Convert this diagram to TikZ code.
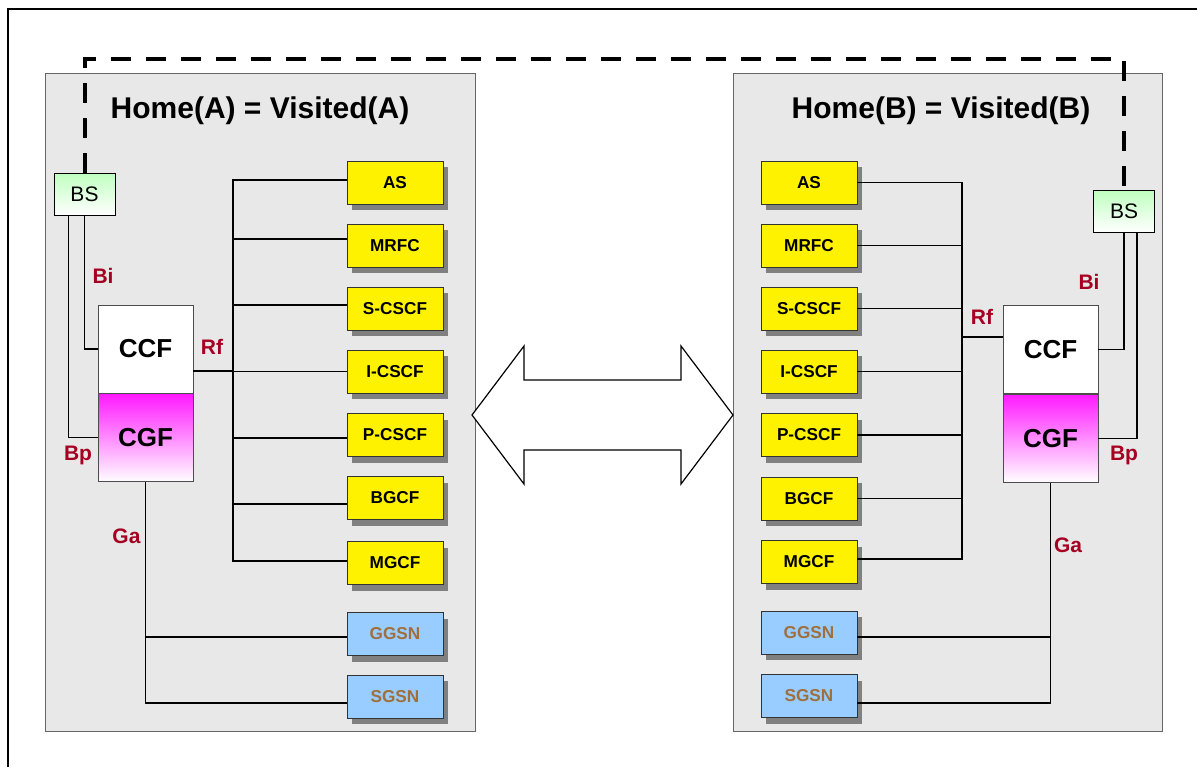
\documentclass[tikz,border=0pt]{standalone}
\usepackage{fontspec}
\setmainfont{Liberation Sans}
\usetikzlibrary{shadows}

\definecolor{panelgray}{HTML}{E8E8E8}
\definecolor{ifred}{HTML}{A50021}
\definecolor{gsnbrown}{HTML}{A0703C}
\definecolor{gsnblue}{HTML}{99CCFF}
\definecolor{bsgreen}{HTML}{BFFFC0}

\tikzset{
  fn/.style={draw=black!80, fill=yellow, minimum width=48pt, minimum height=21.5pt, inner sep=0pt,
    font=\fontsize{8.6}{10}\selectfont\bfseries,
    drop shadow={shadow xshift=2.5pt, shadow yshift=-3pt, fill=gray, opacity=1}},
  gsn/.style={fn, fill=gsnblue, text=gsnbrown},
  bsbox/.style={draw, top color=bsgreen, bottom color=white, minimum width=30.5pt, minimum height=21pt,
    font=\fontsize{10.5}{12}\selectfont},
  ccfbox/.style={draw=black!70, fill=white, minimum width=47.5pt, minimum height=44pt, inner sep=0pt,
    font=\fontsize{13}{15}\selectfont\bfseries},
  cgfbox/.style={ccfbox, top color=magenta!90!white, bottom color=white},
  iface/.style={text=ifred, anchor=base, font=\fontsize{10.5}{12}\selectfont\bfseries},
  title/.style={anchor=base, font=\fontsize{15}{18}\selectfont\bfseries},
  link/.style={line width=0.6pt},
}

\begin{document}
\begin{tikzpicture}[x=0.5pt, y=-0.5pt]
\useasboundingbox (0,0) rectangle (1197,767);
\draw[line width=1pt] (8,767) -- (8,9) -- (1197,9);
% the two networks
\draw[draw=black!60, fill=panelgray] (45,73) rectangle (475,731);
\draw[draw=black!60, fill=panelgray] (733,73) rectangle (1162,731);
\node[title] (titleA) at (260,118) {Home(A) = Visited(A)};
\node[title] (titleB) at (941,118) {Home(B) = Visited(B)};

% network A
\node[bsbox] (bsA) at (84.5,194) {BS};
\node[ccfbox] (ccfA) at (145.5,349) {CCF};
\node[cgfbox, anchor=north] (cgfA) at (ccfA.south) {CGF};
\coordinate (rfA) at (233,371);
\foreach \n/\t/\y/\d in {asA/AS/182.5/1.25pt, mrfcA/MRFC/245.5/3.25pt, scscfA/S-CSCF/308.5/1.75pt,
  icscfA/I-CSCF/371.5/0pt, pcscfA/P-CSCF/435/-1.5pt, bgcfA/BGCF/498/-3pt, mgcfA/MGCF/563/1pt}{
  \node[fn] (\n) at (395,\y) {\t};
  \draw[link] ([yshift=\d]\n.west) -| (rfA);
}
\node[gsn] (ggsnA) at (395,634) {GGSN};
\node[gsn] (sgsnA) at (395,696.5) {SGSN};
\draw[line width=1pt] (ccfA.east |- rfA) -- (rfA);
\draw[link] (bsA.south) |- (ccfA.west);
\draw[link] ([xshift=-8pt]bsA.south) |- (cgfA.west);
\draw[link] ([yshift=-1.5pt]ggsnA.west) -| (cgfA.south);
\draw[link] ([yshift=-3.25pt]sgsnA.west) -| (cgfA.south);
\node[iface] (biA) at (103,283) {Bi};
\node[iface] (rfAlbl) at (212,354) {Rf};
\node[iface] (bpA) at (78,460) {Bp};
\node[iface] (gaA) at (126.5,543) {Ga};

% network B
\node[bsbox] (bsB) at (1124,211) {BS};
\node[ccfbox] (ccfB) at (1050.5,349.5) {CCF};
\node[cgfbox, anchor=north] (cgfB) at (ccfB.south) {CGF};
\coordinate (rfB) at (962,337);
\foreach \n/\t/\y/\d in {asB/AS/182.5/0pt, mrfcB/MRFC/245.5/0pt, scscfB/S-CSCF/308.5/0pt,
  icscfB/I-CSCF/371.5/0pt, pcscfB/P-CSCF/435/0pt, bgcfB/BGCF/498.5/0pt, mgcfB/MGCF/562/1.5pt}{
  \node[fn] (\n) at (809,\y) {\t};
  \draw[link] ([yshift=\d]\n.east) -| (rfB);
}
\node[gsn] (ggsnB) at (809,632.5) {GGSN};
\node[gsn] (sgsnB) at (809,696) {SGSN};
\draw[line width=1pt] (rfB) -- (rfB -| ccfB.west);
\draw[link] (bsB.south) |- (ccfB.east);
\draw[link] ([xshift=6.5pt]bsB.south) |- (cgfB.east);
\draw[link] ([yshift=-2.25pt]ggsnB.east) -| (cgfB.south);
\draw[link] ([yshift=-3.5pt]sgsnB.east) -| (cgfB.south);
\node[iface] (biB) at (1089,289) {Bi};
\node[iface] (rfBlbl) at (982,324) {Rf};
\node[iface] (bpB) at (1124,460) {Bp};
\node[iface] (gaB) at (1068,552) {Ga};

% roaming link between the two BS
\draw[line width=2pt, dash pattern=on 10pt off 7.5pt] (bsA.north) |- (bsB.north |- 0,59) -- (bsB.north);

% double arrow
\draw[link, fill=white] (472,415) -- (524,346) -- (524,380) -- (681,380) -- (681,346) -- (733,415)
  -- (681,484) -- (681,450) -- (524,450) -- (524,484) -- cycle;
\end{tikzpicture}
\end{document}
